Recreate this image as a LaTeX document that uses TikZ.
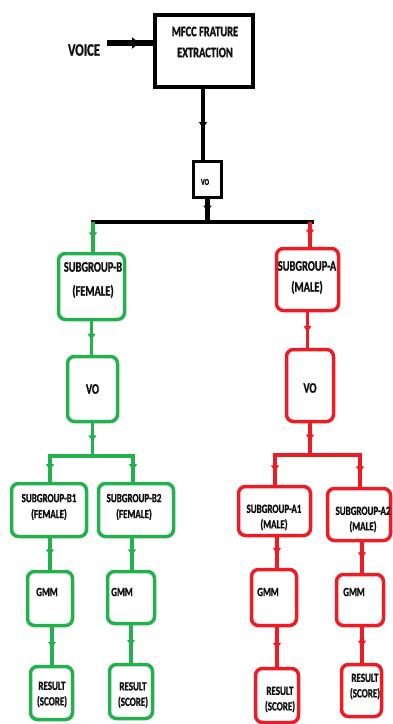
\documentclass[tikz,border=0pt]{standalone}
\usepackage{fontspec}
\setmainfont[FakeStretch=0.72, BoldFont={Carlito Bold}, BoldFeatures={FakeBold=1.2}]{Carlito}
\usetikzlibrary{arrows.meta,decorations.markings}
\definecolor{pgreen}{RGB}{34,177,76}
\definecolor{pred}{RGB}{237,28,36}
\definecolor{txt}{RGB}{15,15,15}
\tikzset{
  box/.style={draw, line width=3.5pt, rounded corners=7pt, inner sep=0pt},
  gbox/.style={box, draw=pgreen},
  rbox/.style={box, draw=pred},
  kbox/.style={draw=black, line width=4pt, inner sep=0pt},
  lbl/.style={text=txt, align=center, inner sep=0pt},
  big/.style={lbl, font=\bfseries\fontsize{14.5}{21}\selectfont},
  small/.style={lbl, font=\bfseries\fontsize{12.5}{15.5}\selectfont},
  midarrow/.style={postaction={decorate}, decoration={markings,
     mark=at position 0.55 with {\arrow[line width=1pt]{Triangle[length=6pt,width=8pt]}}}},
  kline/.style={draw=black, line width=4.5pt, midarrow},
  gline/.style={draw=pgreen, line width=3.5pt, midarrow},
  rline/.style={draw=pred, line width=3.5pt, midarrow},
  gbus/.style={draw=pgreen, line width=3.5pt, line cap=rect},
  rbus/.style={draw=pred, line width=3.5pt, line cap=rect},
}
\begin{document}
\begin{tikzpicture}[x=1pt,y=-1pt]
\useasboundingbox (0,0) rectangle (393,724);
\fill[white] (0,0) rectangle (393,724);

% top part
\node[kbox, minimum width=98, minimum height=72] (mfcc) at (204,51) {};
\node[big] (mfcct) at (205,42) {MFCC FRATURE\\EXTRACTION};
\node[lbl, font=\bfseries\fontsize{17.5}{20}\selectfont] (voice) at (84,50) {VOICE};
\coordinate (vstart) at (107,43);
\draw[draw=black, line width=6.5pt, postaction={decorate}, decoration={markings,
     mark=at position 0.7 with {\arrow[line width=1pt]{Triangle[length=7pt,width=11pt]}}}]
     (vstart) -- (vstart -| mfcc.west);

\node[kbox, line width=3pt, minimum width=28, minimum height=36] (vo) at (207.5,179.5) {};
\node[lbl, font=\bfseries\fontsize{9}{10}\selectfont] (vot) at (205,182) {VO};
\coordinate (mfccout) at (203,89);
\draw[kline] (mfccout) -- (mfccout |- vo.north);
\coordinate (busL) at (93,222);
\coordinate (busR) at (312,222);
\coordinate (busG) at (93,222);
\coordinate (busRd) at (310,222);
\draw[kline] (vo.south) -- (vo.south |- busL);
\draw[draw=black, line width=4.5pt, line cap=rect] (busL) -- (busR);

% female branch
\node[gbox, minimum width=66, minimum height=66] (subb) at (91.5,286.5) {};
\node[big, font=\bfseries\fontsize{14.5}{24}\selectfont] (subbt) at (93,280) {SUBGROUP-B\\(FEMALE)};
\draw[gline] (busG) -- (busG |- subb.north);
\node[gbox, minimum width=50, minimum height=65] (vob) at (92.5,389) {};
\node[big] (vobt) at (92.5,389) {VO};
\draw[gline] (subb.south) -- (subb.south |- vob.north);
\coordinate (gb) at (92.5,456);
\coordinate (gbL) at (50,456);
\coordinate (gbR) at (133,456);
\draw[gline] (vob.south) -- (vob.south |- gb);
\draw[gbus] (gbL) -- (gbR);

\node[gbox, minimum width=75, minimum height=53] (b1) at (49,510) {};
\node[small, font=\bfseries\fontsize{12.5}{16}\selectfont] (b1t) at (49,507) {SUBGROUP-B1\\(FEMALE)};
\node[gbox, minimum width=75, minimum height=53] (b2) at (136,510) {};
\node[small, font=\bfseries\fontsize{12.5}{16}\selectfont] (b2t) at (134,507) {SUBGROUP-B2\\(FEMALE)};
\draw[gline] (gbL) -- (gbL |- b1.north);
\draw[gline] (gbR) -- (gbR |- b2.north);

\node[gbox, minimum width=45, minimum height=54] (g1) at (50,598.5) {};
\node[small] (g1t) at (47,592) {GMM};
\node[gbox, minimum width=47, minimum height=52] (g2) at (131,597.5) {};
\node[small] (g2t) at (122,592) {GMM};
\coordinate (b1o) at (50,538);
\coordinate (b2o) at (132,538);
\draw[gline] (b1o) -- (b1o |- g1.north);
\draw[gline] (b2o) -- (b2o |- g2.north);

\node[gbox, minimum width=42, minimum height=53] (r1) at (51.5,693) {};
\node[small] (r1t) at (52,694.5) {RESULT\\(SCORE)};
\node[gbox, minimum width=43, minimum height=54] (r2) at (131,691.5) {};
\node[small] (r2t) at (133,695) {RESULT\\(SCORE)};
\coordinate (g1o) at (52,627);
\coordinate (g2o) at (131,625);
\draw[gline] (g1o) -- (g1o |- r1.north);
\draw[gline] (g2o) -- (g2o |- r2.north);

% male branch
\node[rbox, minimum width=62, minimum height=62] (suba) at (307.5,279.5) {};
\node[big] (subat) at (307,277.5) {SUBGROUP-A\\(MALE)};
\draw[rline] (busRd) -- (busRd |- suba.north);
\node[rbox, minimum width=47, minimum height=72] (voa) at (310,385.5) {};
\node[big] (voat) at (310,388) {VO};
\draw[rline] (suba.south) -- (suba.south |- voa.north);
\coordinate (rb) at (310,455);
\coordinate (rbL) at (275,455);
\coordinate (rbR) at (360,455);
\draw[rline] (voa.south) -- (voa.south |- rb);
\draw[rbus] (rbL) -- (rbR);

\node[rbox, minimum width=72, minimum height=49] (a1) at (274.5,511) {};
\node[small] (a1t) at (274,517.5) {SUBGROUP-A1\\(MALE)};
\node[rbox, minimum width=63, minimum height=52] (a2) at (359,514.5) {};
\node[small] (a2t) at (363,519.5) {SUBGROUP-A2\\(MALE)};
\draw[rline] (rbL) -- (rbL |- a1.north);
\draw[rline] (rbR) -- (rbR |- a2.north);

\node[rbox, minimum width=45, minimum height=56] (ga1) at (274,597.5) {};
\node[small] (ga1t) at (268,592) {GMM};
\node[rbox, minimum width=47, minimum height=51] (ga2) at (360,600) {};
\node[small] (ga2t) at (354,592) {GMM};
\coordinate (a1o) at (277,537);
\coordinate (a2o) at (362,541);
\draw[rline] (a1o) -- (a1o |- ga1.north);
\draw[rline] (a2o) -- (a2o |- ga2.north);

\node[rbox, minimum width=43, minimum height=54] (ra1) at (277,695.5) {};
\node[small] (ra1t) at (280,699.5) {RESULT\\(SCORE)};
\node[rbox, minimum width=40, minimum height=52] (ra2) at (361.5,690.5) {};
\node[small] (ra2t) at (365,686.5) {RESULT\\(SCORE)};
\coordinate (ga1o) at (277,627);
\coordinate (ga2o) at (362,627);
\draw[rline] (ga1o) -- (ga1o |- ra1.north);
\draw[rline] (ga2o) -- (ga2o |- ra2.north);
\end{tikzpicture}
\end{document}
